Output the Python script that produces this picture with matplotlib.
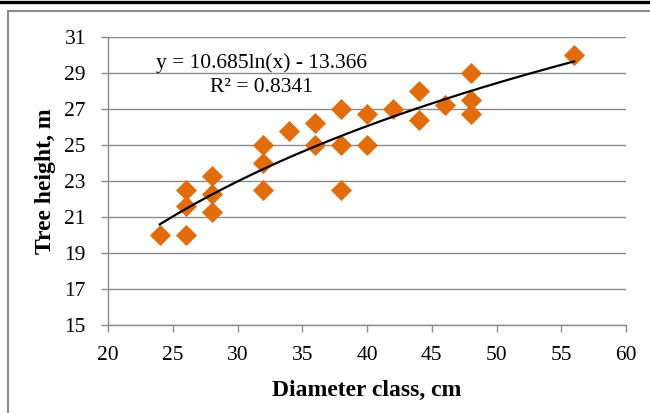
import numpy as np
import matplotlib
matplotlib.use("Agg")
import matplotlib.pyplot as plt
from matplotlib.patches import Rectangle
from matplotlib.lines import Line2D

diameter = [24, 26, 26, 26, 28, 28, 28, 32, 32, 32, 34, 36, 36, 38, 38, 38,
            40, 40, 42, 44, 44, 46, 48, 48, 48, 56]
height = [20.0, 20.0, 21.6, 22.5, 23.3, 22.3, 21.3, 22.5, 24.0, 25.0, 25.8,
          26.2, 25.0, 27.0, 25.0, 22.5, 26.7, 25.0, 27.0, 28.0, 26.4, 27.2,
          29.0, 27.5, 26.7, 30.0]
trend_a = 10.685
trend_b = -13.366
eq_text = "y = 10.685ln(x) - 13.366"
r2_text = "R² = 0.8341"
x_ticks = [20, 25, 30, 35, 40, 45, 50, 55, 60]
y_ticks = [15, 17, 19, 21, 23, 25, 27, 29, 31]

plt.rcParams['font.family'] = ['Liberation Serif', 'DejaVu Serif']

fig = plt.figure(figsize=(6.5, 4.13), dpi=100)
ax = fig.add_axes([108/650, 1-325/413, (626-108)/650, (325-37)/413])

# outer decorations
fig.add_artist(Line2D([0, 1], [1-1.5/413, 1-1.5/413], color='black', lw=2.4,
                      transform=fig.transFigure))
fig.add_artist(Rectangle((7.5/650, -0.05), 1.1, 1-10.5/413+0.05, fill=False,
                         edgecolor='#8c8c8c', lw=1.5, transform=fig.transFigure))

ax.set_xlim(20, 60)
ax.set_ylim(15, 31)
ax.set_xticks(x_ticks)
ax.set_yticks(y_ticks)
ax.grid(axis='y', color='#8c8c8c', lw=1.0)
ax.set_axisbelow(True)
for s in ['top', 'right']:
    ax.spines[s].set_visible(False)
for s in ['left', 'bottom']:
    ax.spines[s].set_color('#8c8c8c')
    ax.spines[s].set_linewidth(1.0)
ax.tick_params(axis='both', colors='#8c8c8c', length=5, width=1.0,
               labelcolor='black', labelsize=15.5)
ax.tick_params(axis='x', pad=10)
ax.tick_params(axis='y', pad=11)

ax.scatter(diameter, height, marker='D', s=115, color='#E36C0A', zorder=3,
           linewidths=0)

xs = np.linspace(min(diameter), max(diameter), 200)
ax.plot(xs, trend_a*np.log(xs) + trend_b, color='black', lw=1.6, zorder=4)

ax.text(23.7, 29.57, eq_text, fontsize=15.5, ha='left', va='center')
ax.text(27.85, 28.22, r2_text, fontsize=15.5, ha='left', va='center')

ax.set_xlabel("Diameter class, cm", fontsize=17, fontweight='bold', labelpad=11)
ax.set_ylabel("Tree height, m", fontsize=17, fontweight='bold', labelpad=6)

fig.savefig("out.png", dpi=100)
